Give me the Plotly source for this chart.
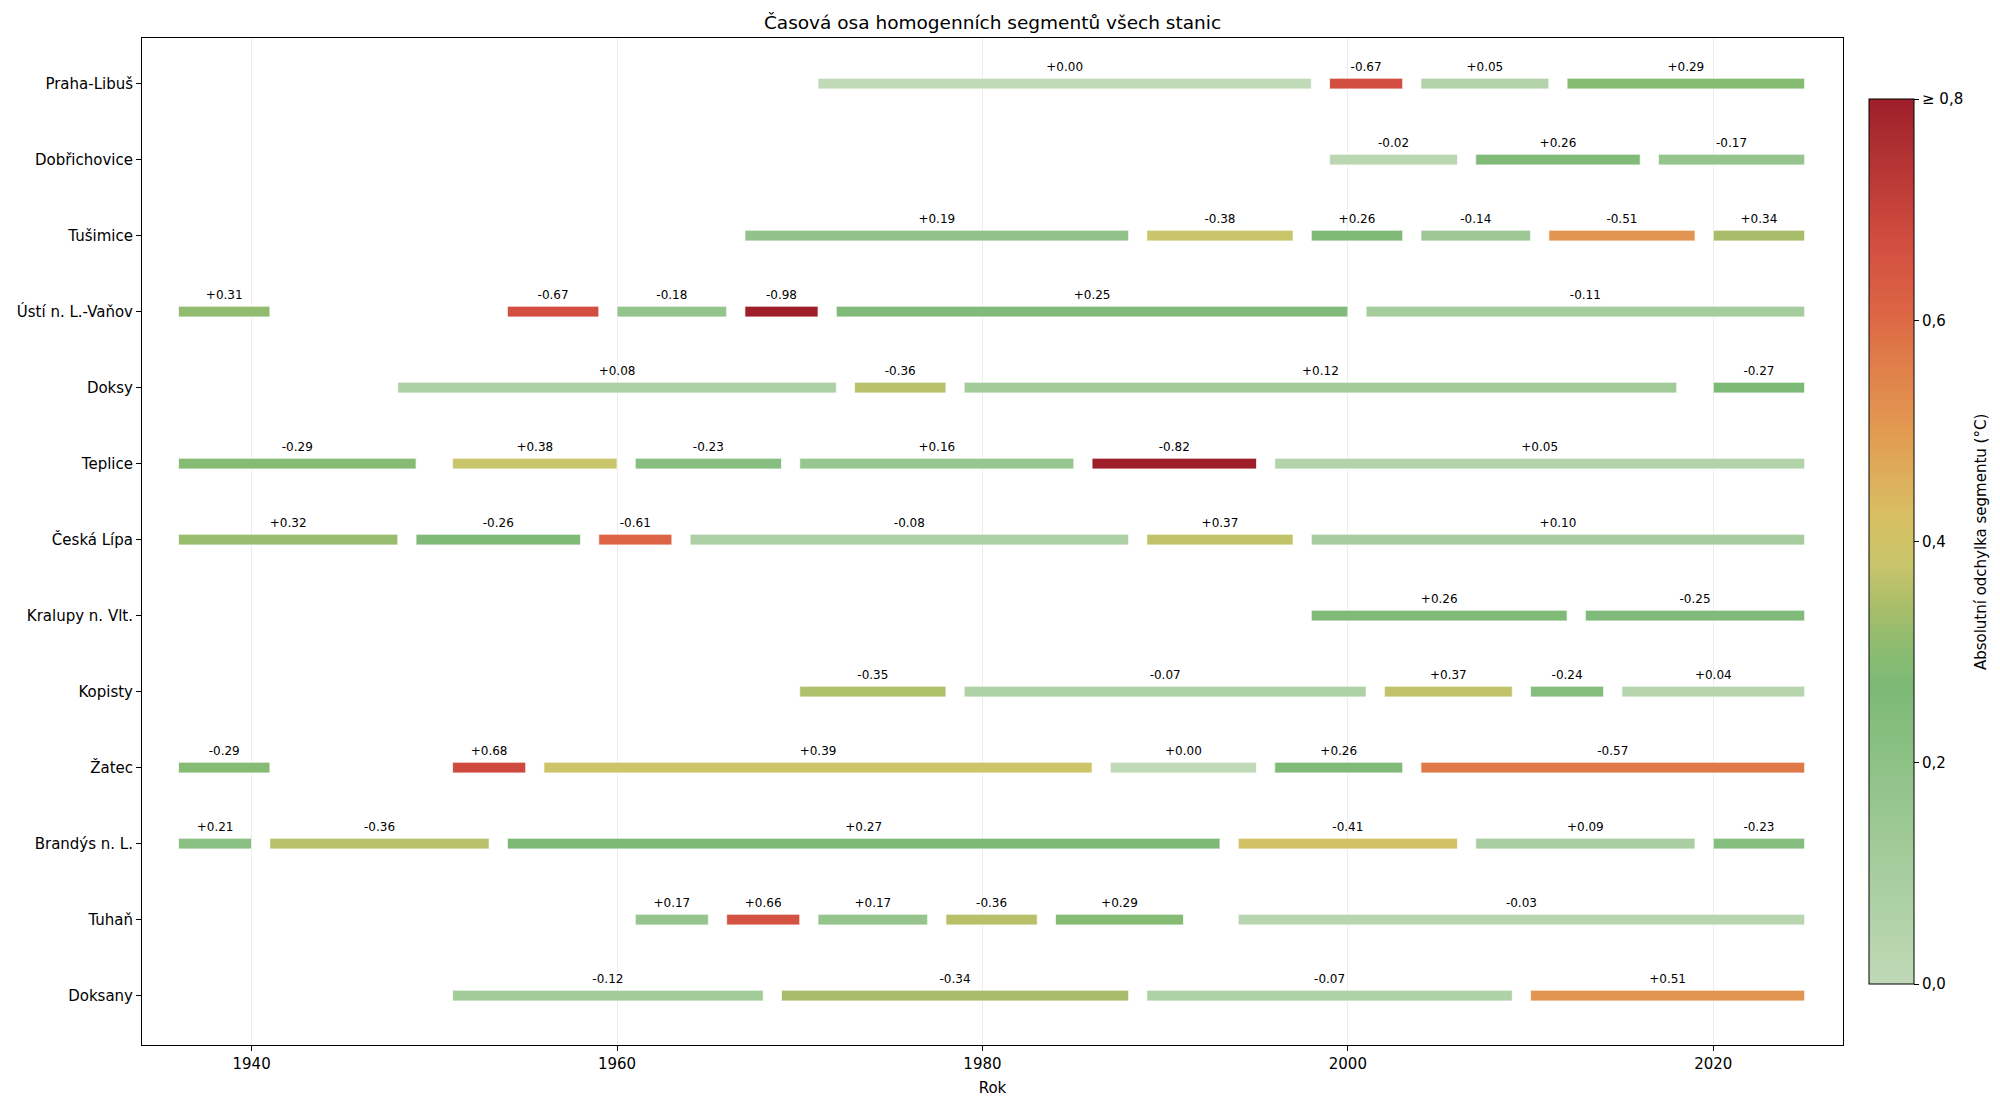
import numpy as np
import plotly.graph_objects as go

# Stations, top to bottom
stations = [
    "Praha-Libuš", "Dobřichovice", "Tušimice", "Ústí n. L.-Vaňov", "Doksy",
    "Teplice", "Česká Lípa", "Kralupy n. Vlt.", "Kopisty", "Žatec",
    "Brandýs n. L.", "Tuhaň", "Doksany",
]

# Homogeneous segments: station, start year, end year, offset (°C)
seg_station = (
    ["Praha-Libuš"] * 4 + ["Dobřichovice"] * 3 + ["Tušimice"] * 6
    + ["Ústí n. L.-Vaňov"] * 6 + ["Doksy"] * 4 + ["Teplice"] * 6
    + ["Česká Lípa"] * 6 + ["Kralupy n. Vlt."] * 2 + ["Kopisty"] * 5
    + ["Žatec"] * 6 + ["Brandýs n. L."] * 6 + ["Tuhaň"] * 6 + ["Doksany"] * 4
)
seg_start = [
    1971, 1999, 2004, 2012,
    1999, 2007, 2017,
    1967, 1989, 1998, 2004, 2011, 2020,
    1936, 1954, 1960, 1967, 1972, 2001,
    1948, 1973, 1979, 2020,
    1936, 1951, 1961, 1970, 1986, 1996,
    1936, 1949, 1959, 1964, 1989, 1998,
    1998, 2013,
    1970, 1979, 2002, 2010, 2015,
    1936, 1951, 1956, 1987, 1996, 2004,
    1936, 1941, 1954, 1994, 2007, 2020,
    1961, 1966, 1971, 1978, 1984, 1994,
    1951, 1969, 1989, 2010,
]
seg_end = [
    1998, 2003, 2011, 2025,
    2006, 2016, 2025,
    1988, 1997, 2003, 2010, 2019, 2025,
    1941, 1959, 1966, 1971, 2000, 2025,
    1972, 1978, 2018, 2025,
    1949, 1960, 1969, 1985, 1995, 2025,
    1948, 1958, 1963, 1988, 1997, 2025,
    2012, 2025,
    1978, 2001, 2009, 2014, 2025,
    1941, 1955, 1986, 1995, 2003, 2025,
    1940, 1953, 1993, 2006, 2019, 2025,
    1965, 1970, 1977, 1983, 1991, 2025,
    1968, 1988, 2009, 2025,
]
seg_delta = [
    0.00, -0.67, 0.05, 0.29,
    -0.02, 0.26, -0.17,
    0.19, -0.38, 0.26, -0.14, -0.51, 0.34,
    0.31, -0.67, -0.18, -0.98, 0.25, -0.11,
    0.08, -0.36, 0.12, -0.27,
    -0.29, 0.38, -0.23, 0.16, -0.82, 0.05,
    0.32, -0.26, -0.61, -0.08, 0.37, 0.10,
    0.26, -0.25,
    -0.35, -0.07, 0.37, -0.24, 0.04,
    -0.29, 0.68, 0.39, 0.00, 0.26, -0.57,
    0.21, -0.36, 0.27, -0.41, 0.09, -0.23,
    0.17, 0.66, 0.17, -0.36, 0.29, -0.03,
    -0.12, -0.34, -0.07, 0.51,
]

# green -> yellow -> orange -> red, for |offset| from 0 to 0.8 °C
colorscale = [
    [0.0, "#c0d9b7"],
    [0.3375, "#7cb975"],
    [0.375, "#8abc72"],
    [0.425, "#a8bd6a"],
    [0.475, "#c9c56a"],
    [0.525, "#d8c064"],
    [0.625, "#e39a52"],
    [0.7125, "#df7a48"],
    [0.7625, "#dc6444"],
    [0.8375, "#d24e40"],
    [1.0, "#9e1f2a"],
]

y_pos = np.array([stations.index(s) for s in seg_station])
start = np.array(seg_start, dtype=float)
end = np.array(seg_end, dtype=float)
delta = np.array(seg_delta)
absval = np.clip(np.abs(delta), 0, 0.8)

fig = go.Figure()

fig.add_trace(go.Bar(
    orientation="h",
    y=y_pos,
    x=end - start,
    base=start,
    width=0.14,
    marker=dict(
        color=absval,
        colorscale=colorscale,
        cmin=0, cmax=0.8,
        line=dict(color="rgba(255,255,255,0.7)", width=1),
        colorbar=dict(
            x=1.0153, xanchor="left", xpad=0,
            y=0.5, yanchor="middle", ypad=0,
            lenmode="pixels", len=885,
            thickness=45,
            outlinecolor="black", outlinewidth=1,
            ticks="outside", ticklen=5, tickcolor="black",
            tickvals=[0, 0.2, 0.4, 0.6, 0.8],
            ticktext=["0,0", "0,2", "0,4", "0,6", "≥ 0,8"],
            tickfont=dict(size=15, color="black"),
        ),
    ),
    hovertemplate="%{base}–%{x}<extra></extra>",
    showlegend=False,
))

# Labels above each bar
fig.add_trace(go.Scatter(
    x=(start + end) / 2,
    y=y_pos - 0.2,
    mode="text",
    text=[f"{v:+.2f}" for v in delta],
    textfont=dict(size=12, color="black", family="DejaVu Sans"),
    hoverinfo="skip",
    showlegend=False,
))

# colorbar label, placed by hand so it sits where the reference has it
fig.add_annotation(
    text="Absolutní odchylka segmentu (°C)",
    xref="paper", yref="paper", x=1.0809, y=0.499,
    xanchor="center", yanchor="middle",
    textangle=-90, showarrow=False,
    font=dict(size=15, color="black"),
)

fig.update_xaxes(
    range=[1934.0, 2027.1],
    tickvals=[1940, 1960, 1980, 2000, 2020],
    showgrid=True, gridcolor="rgba(0,0,0,0.07)", gridwidth=1,
    zeroline=False,
    showline=True, linecolor="black", linewidth=1, mirror=True,
    ticks="outside", ticklen=5, tickcolor="black",
    tickfont=dict(size=15, color="black"),
    title=dict(text="Rok", font=dict(size=15, color="black"), standoff=10),
)
fig.update_yaxes(
    range=[12.65, -0.6],
    tickvals=list(range(len(stations))),
    ticktext=stations,
    showgrid=False, zeroline=False,
    showline=True, linecolor="black", linewidth=1, mirror=True,
    ticks="outside", ticklen=5, tickcolor="black",
    tickfont=dict(size=15, color="black"),
)

# page body adds an 8px margin, so the figure is 8px smaller and shifted
fig.update_layout(
    width=1992, height=1095,
    margin=dict(l=134, r=157, t=30, b=58, autoexpand=False),
    paper_bgcolor="white", plot_bgcolor="white",
    font=dict(family="DejaVu Sans", color="black"),
    barmode="overlay",
    title=dict(text="Časová osa homogenních segmentů všech stanic",
               x=0.5, xref="paper", xanchor="center",
               y=1 - 15 / 1095, yanchor="middle",
               font=dict(size=18.5, color="black")),
)

fig.write_html("out.html")
